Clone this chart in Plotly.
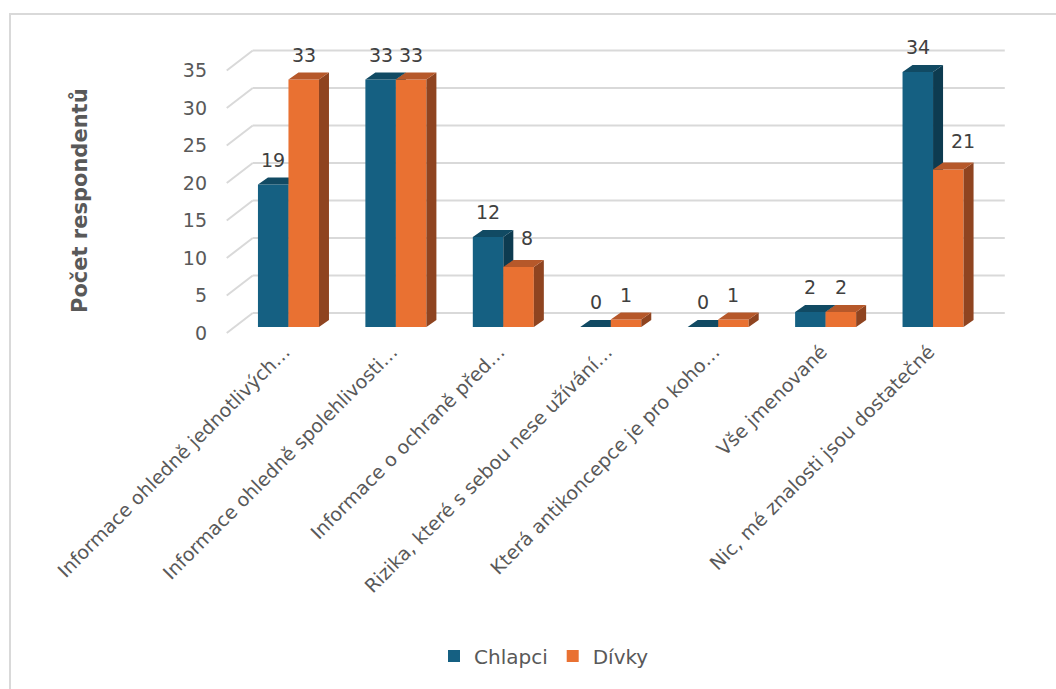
import plotly.graph_objects as go

# Survey data: what information respondents were missing about contraception
categories = [
    "Informace ohledně jednotlivých…",
    "Informace ohledně spolehlivosti…",
    "Informace o ochraně před…",
    "Rizika, které s sebou nese užívání…",
    "Která antikoncepce je pro koho…",
    "Vše jmenované",
    "Nic, mé znalosti jsou dostatečné",
]
chlapci = [19, 33, 12, 0, 0, 2, 34]
divky = [33, 33, 8, 1, 1, 2, 21]
y_ticks = [0, 5, 10, 15, 20, 25, 30, 35]

# ---- geometry of the pseudo-3D view (axis units) ----
PX_X = 795 / 7.4          # pixels per category unit
PX_Y = 291 / 38.8         # pixels per value unit
FRONT_DX = -8 / PX_X      # floor front edge relative to the bar plane
FRONT_DY = -6 / PX_Y
BACK_DX = 18 / PX_X       # back wall relative to the bar plane
BACK_DY = 14 / PX_Y
BAR_W = 0.284
BAR_DX = 10 / PX_X        # bar depth
BAR_DY = 7 / PX_Y
CAT_LABEL_DX = 4 / PX_X   # category labels sit a touch right of the floor edge

BLUE, BLUE_TOP, BLUE_SIDE = "#156082", "#114a63", "#0d3b50"
ORANGE, ORANGE_TOP, ORANGE_SIDE = "#E97132", "#b6582a", "#8f4420"
GRID = "#d9d9d9"
TEXT = "#595959"
LABEL = "#404040"
FONT = "DejaVu Sans"

x_idx = list(range(len(categories)))


def faces(values, offset):
    """Top and side parallelograms of each bar, as polygons split by None."""
    tx, ty, sx, sy = [], [], [], []
    for i, v in zip(x_idx, values):
        x0 = i + offset
        x1 = x0 + BAR_W
        tx += [x0, x1, x1 + BAR_DX, x0 + BAR_DX, x0, None]
        ty += [v, v, v + BAR_DY, v + BAR_DY, v, None]
        sx += [x1, x1, x1 + BAR_DX, x1 + BAR_DX, x1, None]
        sy += [0, v, v + BAR_DY, BAR_DY, 0, None]
    return tx, ty, sx, sy


fig = go.Figure()


def add_series(values, offset, name, front, top, side, xa, ya):
    fig.add_trace(go.Bar(
        x=x_idx, y=values, name=name, width=BAR_W, offset=offset,
        marker=dict(color=front, line=dict(width=0)),
        xaxis=xa, yaxis=ya, hoverinfo="skip",
    ))
    tx, ty, sx, sy = faces(values, offset)
    fig.add_trace(go.Scatter(x=sx, y=sy, fill="toself", fillcolor=side, mode="lines",
                             line=dict(width=0), showlegend=False, hoverinfo="skip",
                             xaxis=xa, yaxis=ya))
    fig.add_trace(go.Scatter(x=tx, y=ty, fill="toself", fillcolor=top, mode="lines",
                             line=dict(width=0), showlegend=False, hoverinfo="skip",
                             xaxis=xa, yaxis=ya))


# boys on the base subplot, girls on an overlaid subplot so they sit in front
add_series(chlapci, -BAR_W, "Chlapci", BLUE, BLUE_TOP, BLUE_SIDE, "x", "y")
add_series(divky, 0.0, "Dívky", ORANGE, ORANGE_TOP, ORANGE_SIDE, "x2", "y2")

# gridlines: floor-to-wall diagonal plus back-wall horizontal
shapes = []
n = len(categories)
for v in y_ticks:
    shapes.append(dict(type="line", xref="x", yref="y", layer="below",
                       x0=-0.5 + FRONT_DX, y0=v + FRONT_DY,
                       x1=-0.5 + BACK_DX, y1=v + BACK_DY,
                       line=dict(color=GRID, width=2)))
    shapes.append(dict(type="line", xref="x", yref="y", layer="below",
                       x0=-0.5 + BACK_DX, y0=v + BACK_DY,
                       x1=n - 0.5 + BACK_DX, y1=v + BACK_DY,
                       line=dict(color=GRID, width=2)))

# chart frame
L, R, T, B = 224, 37, 45, 353
PW, PH = 1056 - L - R, 689 - T - B


def px_to_paper_x(px):
    return (px - L) / PW


def px_to_paper_y(py):
    return (689 - B - py) / PH


shapes.append(dict(type="rect", xref="paper", yref="paper", layer="below",
                   x0=px_to_paper_x(10), y0=px_to_paper_y(14),
                   x1=px_to_paper_x(1080), y1=px_to_paper_y(720),
                   line=dict(color=GRID, width=2), fillcolor="rgba(0,0,0,0)"))

# value labels; a girls' label moves right/up when the boys' bar beside it is taller
annotations = []
for i, v in zip(x_idx, chlapci):
    annotations.append(dict(x=i - BAR_W / 2, y=v, xref="x", yref="y", text=str(v),
                            showarrow=False, yshift=25,
                            font=dict(family=FONT, size=19, color=LABEL)))
for i, v, b in zip(x_idx, divky, chlapci):
    blocked = b > v
    half_w = 6.3 * len(str(v))
    annotations.append(dict(x=i + BAR_W / 2, y=v, xref="x", yref="y", text=str(v),
                            showarrow=False,
                            xshift=(2 + half_w) if blocked else 0,
                            yshift=29 if blocked else 25,
                            font=dict(family=FONT, size=19, color=LABEL)))
annotations.append(dict(x=px_to_paper_x(80), y=px_to_paper_y(201), xref="paper", yref="paper",
                        xanchor="center", yanchor="middle",
                        text="<b>Počet respondentů</b>", textangle=-90, showarrow=False,
                        font=dict(family=FONT, size=21, color=TEXT)))

axis_common = dict(showgrid=False, zeroline=False, showline=False)
fig.update_layout(
    width=1056, height=689,
    margin=dict(l=L, r=R, t=T, b=B),
    paper_bgcolor="white", plot_bgcolor="white",
    font=dict(family=FONT, size=19, color=TEXT),
    showlegend=True,
    legend=dict(orientation="h", x=px_to_paper_x(544), y=px_to_paper_y(656),
                xanchor="center", yanchor="middle",
                font=dict(family=FONT, size=20, color=TEXT)),
    xaxis=dict(range=[-0.6, 6.8], tickmode="array",
               tickvals=[i + FRONT_DX + CAT_LABEL_DX for i in x_idx], ticktext=categories,
               tickangle=-45, tickfont=dict(family=FONT, size=19, color=TEXT),
               **axis_common),
    yaxis=dict(range=[-1.2, 37.6], tickmode="array",
               tickvals=[v + FRONT_DY for v in y_ticks], ticktext=[str(v) for v in y_ticks],
               ticklabelstandoff=16, tickfont=dict(family=FONT, size=19, color=TEXT),
               **axis_common),
    xaxis2=dict(range=[-0.6, 6.8], overlaying="x", showticklabels=False, **axis_common),
    yaxis2=dict(range=[-1.2, 37.6], overlaying="y", showticklabels=False, **axis_common),
    shapes=shapes,
    annotations=annotations,
)

fig.write_html("out.html")
